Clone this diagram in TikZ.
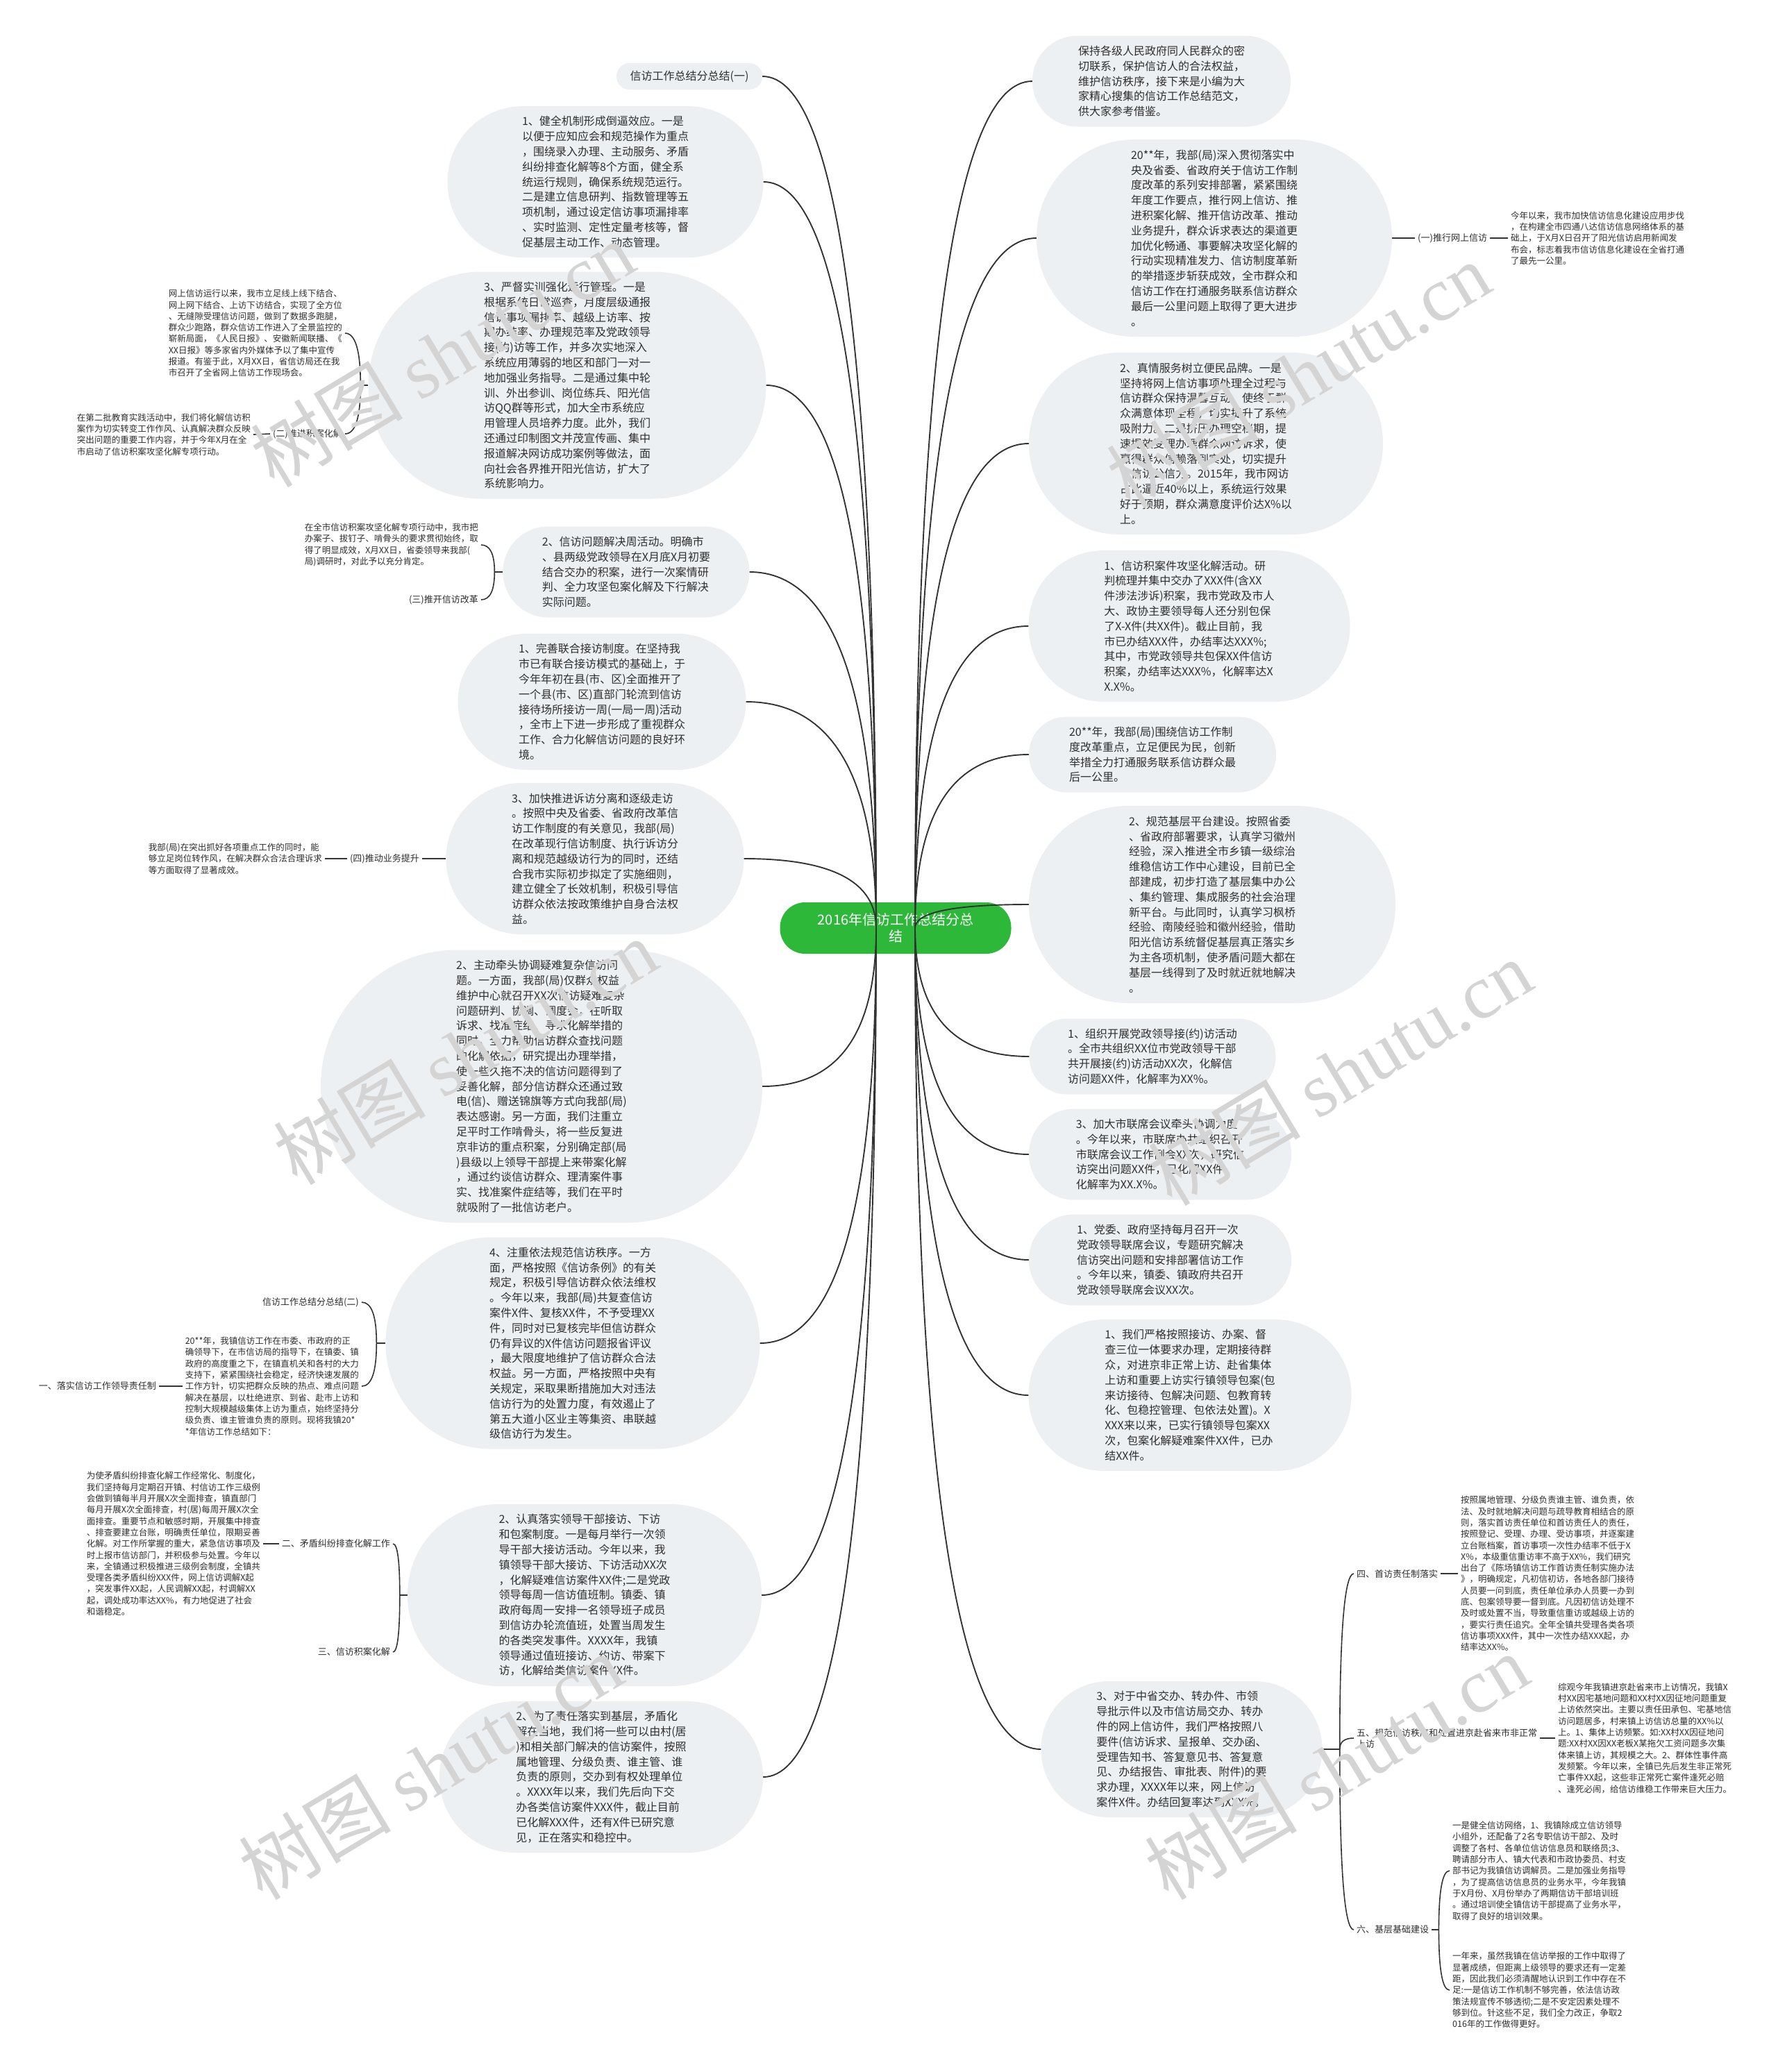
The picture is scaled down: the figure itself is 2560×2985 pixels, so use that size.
\documentclass[tikz,border=0pt]{standalone}
\usepackage{fontspec}
\setmainfont{Noto Sans CJK SC}
\newfontfamily\wmserif{Liberation Serif}
\usetikzlibrary{calc}
\definecolor{bubble}{HTML}{EDF0F3}
\definecolor{ink}{HTML}{2E2E2E}
\definecolor{linec}{HTML}{333333}
\definecolor{rootg}{HTML}{2DB83A}
\tikzset{
  bub/.style 2 args={fill=bubble, draw=none, rounded corners={(#2)*0.5-0.5}, minimum width=#1, minimum height=#2, inner sep=0pt, align=left, text=ink, font=\fontsize{16}{21.8}\selectfont},
  rootbox/.style={fill=rootg, draw=none, rounded corners=36, minimum width=333, minimum height=74, inner sep=0pt, align=center, text=white, font=\fontsize{20}{24}\selectfont},
  lbl/.style={inner sep=4pt, align=left, text=ink, font=\fontsize{13}{16}\selectfont},
  tinytxt/.style={inner sep=4pt, align=left, text=ink, font=\fontsize{12.5}{16.3}\selectfont},
  conn/.style={draw=linec, line width=1.9pt},
  sub/.style={draw=linec, line width=1.6pt},
  wm/.style={text=black!17, rotate=31, font=\fontsize{110}{110}\selectfont, inner sep=0pt}
}
\newcommand\LinkL[1]{\path (rl |- #1.east) coordinate (qq);
  \draw[conn] (rl) .. controls ($(rl)!0.6667!(qq)$) and ($(#1.east)!0.6667!(qq)$) .. (#1.east);}
\newcommand\LinkR[1]{\path (rr |- #1.west) coordinate (qq);
  \draw[conn] (rr) .. controls ($(rr)!0.6667!(qq)$) and ($(#1.west)!0.6667!(qq)$) .. (#1.west);}
\newcommand\BrLink[2]{\path (#1 |- #2) coordinate (qb);
  \draw[sub] (#1) .. controls ($(#1)!0.6667!(qb)$) and ($(#2)!0.6667!(qb)$) .. (#2);}
\begin{document}
\begin{tikzpicture}[x=1pt,y=-1pt]
\fill[white] (0,0) rectangle (2560,2985);
\useasboundingbox (0,0) rectangle (2560,2985);

% ---------------- left side ----------------
\node[bub={210}{38}, font=\fontsize{16}{20}\selectfont] (l1) at (993,110) {信访工作总结分总结(一)};

\node[bub={455}{218}] (n1) at (872,262) {1、健全机制形成倒逼效应。一是\\以便于应知应会和规范操作为重点\\，围绕录入办理、主动服务、矛盾\\纠纷排查化解等8个方面，健全系\\统运行规则，确保系统规范运行。\\二是建立信息研判、指数管理等五\\项机制，通过设定信访事项漏排率\\、实时监测、定性定量考核等，督\\促基层主动工作、动态管理。};

\node[bub={573}{327}] (n3) at (817,555) {3、严督实训强化运行管理。一是\\根据系统日常巡查，月度层级通报\\信访事项漏排率、越级上访率、按\\期办结率、办理规范率及党政领导\\接(约)访等工作，并多次实地深入\\系统应用薄弱的地区和部门一对一\\地加强业务指导。二是通过集中轮\\训、外出参训、岗位练兵、阳光信\\访QQ群等形式，加大全市系统应\\用管理人员培养力度。此外，我们\\还通过印制图文并茂宣传画、集中\\报道解决网访成功案例等做法，面\\向社会各界推开阳光信访，扩大了\\系统影响力。};

\node[tinytxt, anchor=east] (t1) at (497,480) {网上信访运行以来，我市立足线上线下结合、\\网上网下结合、上访下访结合，实现了全方位\\、无缝隙受理信访问题，做到了数据多跑腿，\\群众少跑路，群众信访工作进入了全景监控的\\崭新局面，《人民日报》、安徽新闻联播、《\\XX日报》等多家省内外媒体予以了集中宣传\\报道。有鉴于此，X月XX日，省信访局还在我\\市召开了全省网上信访工作现场会。};
\node[lbl, anchor=east] (a2) at (497,625) {(二)推进积案化解};
\node[tinytxt, anchor=east] (t2) at (365,626) {在第二批教育实践活动中，我们将化解信访积\\案作为切实转变工作作风、认真解决群众反映\\突出问题的重要工作内容，并于今年X月在全\\市启动了信访积案攻坚化解专项行动。};

\node[bub={355}{131}] (n2b) at (902,824) {2、信访问题解决周活动。明确市\\、县两级党政领导在X月底X月初要\\结合交办的积案，进行一次案情研\\判、全力攻坚包案化解及下行解决\\实际问题。};
\node[tinytxt, anchor=east] (t3) at (693,785) {在全市信访积案攻坚化解专项行动中，我市把\\办案子、拔钉子、啃骨头的要求贯彻始终，取\\得了明显成效，X月XX日，省委领导来我部(\\局)调研时，对此予以充分肯定。};
\node[lbl, anchor=east] (a3) at (693,864) {(三)推开信访改革};

\node[bub={415}{196}] (n4) at (867,1011) {1、完善联合接访制度。在坚持我\\市已有联合接访模式的基础上，于\\今年年初在县(市、区)全面推开了\\一个县(市、区)直部门轮流到信访\\接待场所接访一周(一局一周)活动\\，全市上下进一步形成了重视群众\\工作、合力化解信访问题的良好环\\境。};

\node[bub={429}{218}] (n5) at (857,1237) {3、加快推进诉访分离和逐级走访\\。按照中央及省委、省政府改革信\\访工作制度的有关意见，我部(局)\\在改革现行信访制度、执行诉访分\\离和规范越级访行为的同时，还结\\合我市实际初步拟定了实施细则，\\建立健全了长效机制，积极引导信\\访群众依法按政策维护自身合法权\\益。};
\node[lbl, anchor=east] (a4) at (608,1237) {(四)推动业务提升};
\node[tinytxt, anchor=east] (t4) at (468,1237) {我部(局)在突出抓好各项重点工作的同时，能\\够立足岗位转作风，在解决群众合法合理诉求\\等方面取得了显著成效。};

\node[bub={636}{393}] (n6) at (780,1565) {2、主动牵头协调疑难复杂信访问\\题。一方面，我部(局)仅群众权益\\维护中心就召开XX次信访疑难复杂\\问题研判、协调、调度会，在听取\\诉求、找准症结、寻求化解举措的\\同时，全力帮助信访群众查找问题\\的化解依据，研究提出办理举措，\\使一些久拖不决的信访问题得到了\\妥善化解，部分信访群众还通过致\\电(信)、赠送锦旗等方式向我部(局)\\表达感谢。另一方面，我们注重立\\足平时工作啃骨头，将一些反复进\\京非访的重点积案，分别确定部(局\\)县级以上领导干部提上来带案化解\\，通过约谈信访群众、理清案件事\\实、找准案件症结等，我们在平时\\就吸附了一批信访老户。};

\node[bub={539}{305}] (n7) at (825,1935) {4、注重依法规范信访秩序。一方\\面，严格按照《信访条例》的有关\\规定，积极引导信访群众依法维权\\。今年以来，我部(局)共复查信访\\案件X件、复核XX件，不予受理XX\\件，同时对已复核完毕但信访群众\\仍有异议的X件信访问题报省评议\\，最大限度地维护了信访群众合法\\权益。另一方面，严格按照中央有\\关规定，采取果断措施加大对违法\\信访行为的处置力度，有效遏止了\\第五大道小区业主等集资、串联越\\级信访行为发生。};
\node[lbl, anchor=east] (b2) at (521,1876) {信访工作总结分总结(二)};
\node[tinytxt, anchor=east] (t5) at (521,1997) {20**年，我镇信访工作在市委、市政府的正\\确领导下，在市信访局的指导下，在镇委、镇\\政府的高度重之下，在镇直机关和各村的大力\\支持下，紧紧围绕社会稳定，经济快速发展的\\工作方针，切实把群众反映的热点、难点问题\\解决在基层，以杜绝进京、到省、赴市上访和\\控制大规模越级集体上访为重点，始终坚持分\\级负责、谁主管谁负责的原则。现将我镇20*\\*年信访工作总结如下：};
\node[lbl, anchor=east] (b1) at (229,1997) {一、落实信访工作领导责任制};

\node[bub={510}{262}] (n8) at (842,2298) {2、认真落实领导干部接访、下访\\和包案制度。一是每月举行一次领\\导干部大接访活动。今年以来，我\\镇领导干部大接访、下访活动XX次\\，化解疑难信访案件XX件;二是党政\\领导每周一信访值班制。镇委、镇\\政府每周一安排一名领导班子成员\\到信访办轮流值班，处置当周发生\\的各类突发事件。XXXX年，我镇\\领导通过值班接访、约访、带案下\\访，化解给类信访案件XX件。};
\node[lbl, anchor=east] (b3) at (566,2224) {二、矛盾纠纷排查化解工作};
\node[tinytxt, anchor=east] (t6) at (379,2224) {为使矛盾纠纷排查化解工作经常化、制度化，\\我们坚持每月定期召开镇、村信访工作三级例\\会做到镇每半月开展X次全面排查，镇直部门\\每月开展X次全面排查，村(居)每周开展X次全\\面排查。重要节点和敏感时期，开展集中排查\\、排查要建立台账，明确责任单位，限期妥善\\化解。对工作所掌握的重大，紧急信访事项及\\时上报市信访部门，并积极参与处置。今年以\\来，全镇通过积极推进三级例会制度，全镇共\\受理各类矛盾纠纷XXX件，网上信访调解X起\\，突发事件XX起，人民调解XX起，村调解XX\\起，调处成功率达XX\%，有力地促进了社会\\和谐稳定。};
\node[lbl, anchor=east] (b4) at (566,2380) {三、信访积案化解};

\node[bub={466}{218}] (n9) at (866,2560) {2、为了责任落实到基层，矛盾化\\解在当地，我们将一些可以由村(居\\)和相关部门解决的信访案件，按照\\属地管理、分级负责、谁主管、谁\\负责的原则，交办到有权处理单位\\。XXXX年以来，我们先后向下交\\办各类信访案件XXX件，截止目前\\已化解XXX件，还有X件已研究意\\见，正在落实和稳控中。};

% ---------------- right side ----------------
\node[bub={372}{131}] (r1) at (1673,117) {保持各级人民政府同人民群众的密\\切联系，保护信访人的合法权益，\\维护信访秩序，接下来是小编为大\\家精心搜集的信访工作总结范文，\\供大家参考借鉴。};

\node[bub={512}{284}] (r2) at (1749,343) {20**年，我部(局)深入贯彻落实中\\央及省委、省政府关于信访工作制\\度改革的系列安排部署，紧紧围绕\\年度工作要点，推行网上信访、推\\进积案化解、推开信访改革、推动\\业务提升，群众诉求表达的渠道更\\加优化畅通、事要解决攻坚化解的\\行动实现精准发力、信访制度革新\\的举措逐步斩获成效，全市群众和\\信访工作在打通服务联系信访群众\\最后一公里问题上取得了更大进步\\。};
\node[lbl, anchor=west] (c1) at (2038,343) {(一)推行网上信访};
\node[tinytxt, anchor=west] (t7) at (2172,343) {今年以来，我市加快信访信息化建设应用步伐\\，在构建全市四通八达信访信息网络体系的基\\础上，于X月X日召开了阳光信访启用新闻发\\布会，标志着我市信访信息化建设在全省打通\\了最先一公里。};

\node[bub={510}{262}] (r3) at (1737,639) {2、真情服务树立便民品牌。一是\\坚持将网上信访事项处理全过程与\\信访群众保持温馨互动，使终于群\\众满意体现全程，切实提升了系统\\吸附力。二是挤压办理空档期，提\\速提效受理办理群众网访诉求，使\\赢得群众信赖落到实处，切实提升\\了信访公信力。2015年，我市网访\\占比逼近40\%以上，系统运行效果\\好于预期，群众满意度评价达X\%以\\上。};

\node[bub={463}{218}] (r4) at (1713,902) {1、信访积案件攻坚化解活动。研\\判梳理并集中交办了XXX件(含XX\\件涉法涉诉)积案，我市党政及市人\\大、政协主要领导每人还分别包保\\了X-X件(共XX件)。截止目前，我\\市已办结XXX件，办结率达XXX\%;\\其中，市党政领导共包保XX件信访\\积案，办结率达XXX\%，化解率达X\\X.X\%。};

\node[bub={356}{109}] (r5) at (1660,1087) {20**年，我部(局)围绕信访工作制\\度改革重点，立足便民为民，创新\\举措全力打通服务联系信访群众最\\后一公里。};

\node[bub={528}{284}] (r6) at (1746,1303) {2、规范基层平台建设。按照省委\\、省政府部署要求，认真学习徽州\\经验，深入推进全市乡镇一级综治\\维稳信访工作中心建设，目前已全\\部建成，初步打造了基层集中办公\\、集约管理、集成服务的社会治理\\新平台。与此同时，认真学习枫桥\\经验、南陵经验和徽州经验，借助\\阳光信访系统督促基层真正落实乡\\为主各项机制，使矛盾问题大都在\\基层一线得到了及时就近就地解决\\。};

\node[bub={355}{109}] (r7) at (1660,1522) {1、组织开展党政领导接(约)访活动\\。全市共组织XX位市党政领导干部\\共开展接(约)访活动XX次，化解信\\访问题XX件，化解率为XX\%。};

\node[bub={378}{131}] (r8) at (1671,1663) {3、加大市联席会议牵头协调力度\\。今年以来，市联席办共组织召开\\市联席会议工作例会XX次，研究信\\访突出问题XX件，已化解XX件，\\化解率为XX.X\%。};

\node[bub={378}{131}] (r9) at (1671,1815) {1、党委、政府坚持每月召开一次\\党政领导联席会议，专题研究解决\\信访突出问题和安排部署信访工作\\。今年以来，镇委、镇政府共召开\\党政领导联席会议XX次。};

\node[bub={465}{218}] (r10) at (1714,2010) {1、我们严格按照接访、办案、督\\查三位一体要求办理，定期接待群\\众，对进京非正常上访、赴省集体\\上访和重要上访实行镇领导包案(包\\来访接待、包解决问题、包教育转\\化、包稳控管理、包依法处置)。X\\XXX来以来，已实行镇领导包案XX\\次，包案化解疑难案件XX件，已办\\结XX件。};

\node[bub={405}{196}] (r11) at (1702,2520) {3、对于中省交办、转办件、市领\\导批示件以及市信访局交办、转办\\件的网上信访件，我们严格按照八\\要件(信访诉求、呈报单、交办函、\\受理告知书、答复意见书、答复意\\见、办结报告、审批表、附件)的要\\求办理，XXXX年以来，网上信访\\案件X件。办结回复率达到XXX\%。};

\node[lbl, anchor=west] (d4) at (1950,2267) {四、首访责任制落实};
\node[tinytxt, anchor=west] (t8) at (2100,2267) {按照属地管理、分级负责谁主管、谁负责，依\\法、及时就地解决问题与疏导教育相结合的原\\则，落实首访责任单位和首访责任人的责任，\\按照登记、受理、办理、受访事项，并逐案建\\立台账档案，首访事项一次性办结率不低于X\\X\%，本级重信重访率不高于XX\%，我们研究\\出台了《陈场镇信访工作首访责任制实施办法\\》，明确规定，凡初信初访，各地各部门接待\\人员要一问到底，责任单位承办人员要一办到\\底、包案领导要一督到底。凡因初信访处理不\\及时或处置不当，导致重信重访或越级上访的\\，要实行责任追究。全年全镇共受理各类各项\\信访事项XXX件，其中一次性办结XXX起，办\\结率达XX\%。};

\node[lbl, anchor=west] (d5) at (1950,2504) {五、规范信访秩序和处置进京赴省来市非正常\\上访};
\node[tinytxt, anchor=west] (t9) at (2240,2504) {综观今年我镇进京赴省来市上访情况，我镇X\\村XX因宅基地问题和XX村XX因征地问题重复\\上访依然突出。主要以责任田承包、宅基地信\\访问题居多，村来镇上访信访总量的XX\%以\\上。1、集体上访频繁。如:XX村XX因征地问\\题:XX村XX因XX老板X某拖欠工资问题多次集\\体来镇上访，其规模之大。2、群体性事件高\\发频繁。今年以来，全镇已先后发生非正常死\\亡事件XX起，这些非正常死亡案件逢死必赔\\、逢死必闹，给信访维稳工作带来巨大压力。};

\node[lbl, anchor=west] (d6) at (1950,2780) {六、基层基础建设};
\node[tinytxt, anchor=west] (t10) at (2088,2695) {一是健全信访网络，1、我镇除成立信访领导\\小组外，还配备了2名专职信访干部2、及时\\调整了各村、各单位信访信息员和联络员;3、\\聘请部分市人、镇大代表和市政协委员、村支\\部书记为我镇信访调解员。二是加强业务指导\\，为了提高信访信息员的业务水平，今年我镇\\于X月份、X月份举办了两期信访干部培训班\\。通过培训使全镇信访干部提高了业务水平，\\取得了良好的培训效果。};
\node[tinytxt, anchor=west] (t11) at (2088,2867) {一年来，虽然我镇在信访举报的工作中取得了\\显著成绩，但距离上级领导的要求还有一定差\\距，因此我们必须清醒地认识到工作中存在不\\足:一是信访工作机制不够完善，依法信访政\\策法规宣传不够透彻;二是不安定因素处理不\\够到位。针这些不足，我们全力改正，争取2\\016年的工作做得更好。};

% ---------------- root ----------------
\node[rootbox] (root) at (1290,1337) {2016年信访工作总结分总\\结};
\coordinate (rl) at (1262,1337);
\coordinate (rr) at (1318,1337);

% ---------------- connectors from root ----------------
\LinkL{l1}\LinkL{n1}\LinkL{n3}\LinkL{n2b}\LinkL{n4}\LinkL{n5}
\LinkL{n6}\LinkL{n7}\LinkL{n8}\LinkL{n9}
\LinkR{r1}\LinkR{r2}\LinkR{r3}\LinkR{r4}\LinkR{r5}\LinkR{r6}
\LinkR{r7}\LinkR{r8}\LinkR{r9}\LinkR{r10}\LinkR{r11}

% ---------------- sub connectors ----------------
\coordinate (j3) at ($(n3.west)+(-11,0)$);
\draw[sub] (n3.west) -- (j3);
\BrLink{j3}{t1.east}\BrLink{j3}{a2.east}
\draw[sub] (a2.west) -- (t2.east);

\coordinate (j2b) at ($(n2b.west)+(-12,0)$);
\draw[sub] (n2b.west) -- (j2b);
\BrLink{j2b}{t3.east}\BrLink{j2b}{a3.east}

\draw[sub] (n5.west) -- (a4.east);
\draw[sub] (a4.west) -- (t4.east);

\coordinate (j7) at ($(n7.west)+(-13,0)$);
\draw[sub] (n7.west) -- (j7);
\BrLink{j7}{b2.east}\BrLink{j7}{t5.east}
\draw[sub] (t5.west) -- (b1.east);

\coordinate (j8) at ($(n8.west)+(-11,0)$);
\draw[sub] (n8.west) -- (j8);
\BrLink{j8}{b3.east}\BrLink{j8}{b4.east}
\draw[sub] (b3.west) -- (t6.east);

\draw[sub] (r2.east) -- (c1.west);
\draw[sub] (c1.east) -- (t7.west);

\coordinate (j11) at ($(r11.east)+(25,0)$);
\draw[sub] (r11.east) -- (j11);
\BrLink{j11}{d4.west}\BrLink{j11}{d5.west}\BrLink{j11}{d6.west}
\draw[sub] (d4.east) -- (t8.west);
\draw[sub] (d5.east) -- (t9.west);
\coordinate (j6) at ($(d6.east)+(10,0)$);
\draw[sub] (d6.east) -- (j6);
\BrLink{j6}{t10.west}\BrLink{j6}{t11.west}

% ---------------- watermarks ----------------
\foreach \wx/\wy in {637/510, 1870/540, 670/1515, 1930/1545, 620/2545, 1925/2545}
  \node[wm] at (\wx,\wy) {树图 {\wmserif shutu.cn}};
\end{tikzpicture}
\end{document}
